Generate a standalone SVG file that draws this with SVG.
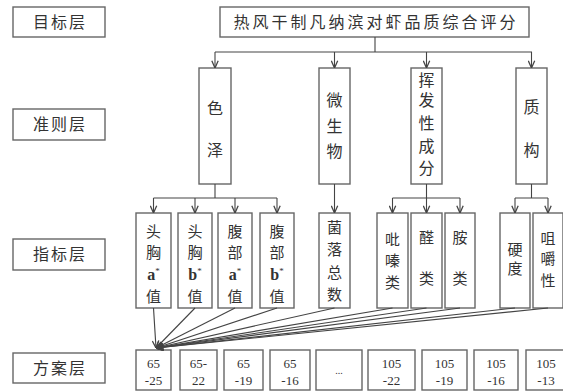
<svg xmlns="http://www.w3.org/2000/svg" width="563" height="392" viewBox="0 0 563 392">
<defs>
<marker id="arr" viewBox="0 0 10 10" refX="10" refY="5" markerWidth="8" markerHeight="8" markerUnits="userSpaceOnUse" orient="auto">
<path d="M1,1 L10,5 L1,9" fill="none" stroke="#444" stroke-width="1.6"/>
</marker>
</defs>
<style>
.box{fill:#fff;stroke:#666;stroke-width:1.4}
.t{font-family:"Liberation Serif","Noto Sans CJK SC",serif;fill:#333;text-anchor:middle}
.lab{font-size:16px;letter-spacing:2px}
.title{font-size:16px;letter-spacing:3px}
.cr{font-size:16px}
.ind{font-size:15px}
.ab{font-size:16px;font-weight:bold}
.num{font-size:13px}
.ln{fill:none;stroke:#444;stroke-width:1.1}
</style>
<rect width="563" height="392" fill="#fff"/>

<g id="label-goal"><rect class="box" x="13" y="7" width="92" height="30"/><text class="t lab" x="60" y="28">目标层</text></g>
<g id="label-criteria"><rect class="box" x="13" y="109" width="92" height="31"/><text class="t lab" x="60" y="130">准则层</text></g>
<g id="label-index"><rect class="box" x="13" y="239" width="92" height="31"/><text class="t lab" x="60" y="260">指标层</text></g>
<g id="label-scheme"><rect class="box" x="13" y="353" width="92" height="30"/><text class="t lab" x="60" y="374">方案层</text></g>

<g id="goal"><rect class="box" x="220" y="7" width="309" height="30"/><text class="t title" x="376" y="28">热风干制凡纳滨对虾品质综合评分</text></g>

<g id="c-color"><rect class="box" x="199" y="68" width="32" height="116"/>
<text class="t cr" x="215" y="114">色</text><text class="t cr" x="215" y="156">泽</text></g>
<g id="c-micro"><rect class="box" x="319" y="68" width="31" height="116"/>
<text class="t cr" x="334.5" y="106">微</text><text class="t cr" x="334.5" y="132">生</text><text class="t cr" x="334.5" y="157">物</text></g>
<g id="c-volatile"><rect class="box" x="411" y="68" width="31" height="116"/>
<text class="t cr" x="426.5" y="86">挥</text><text class="t cr" x="426.5" y="106">发</text><text class="t cr" x="426.5" y="129">性</text><text class="t cr" x="426.5" y="152">成</text><text class="t cr" x="426.5" y="174">分</text></g>
<g id="c-texture"><rect class="box" x="516" y="68" width="31" height="116"/>
<text class="t cr" x="531.5" y="113">质</text><text class="t cr" x="531.5" y="156">构</text></g>

<g id="i-ha"><rect class="box" x="136" y="213" width="35" height="95"/>
<text class="t ind" x="153.5" y="237">头</text><text class="t ind" x="153.5" y="258">胸</text><text class="t ab" x="153.5" y="280">a<tspan font-size="9" font-weight="normal" dy="-6">*</tspan></text><text class="t ind" x="153.5" y="302">值</text></g>
<g id="i-hb"><rect class="box" x="178" y="213" width="34" height="95"/>
<text class="t ind" x="195" y="237">头</text><text class="t ind" x="195" y="258">胸</text><text class="t ab" x="195" y="280">b<tspan font-size="9" font-weight="normal" dy="-6">*</tspan></text><text class="t ind" x="195" y="302">值</text></g>
<g id="i-aa"><rect class="box" x="218" y="213" width="34" height="95"/>
<text class="t ind" x="235" y="237">腹</text><text class="t ind" x="235" y="258">部</text><text class="t ab" x="235" y="280">a<tspan font-size="9" font-weight="normal" dy="-6">*</tspan></text><text class="t ind" x="235" y="302">值</text></g>
<g id="i-ab"><rect class="box" x="260" y="213" width="34" height="95"/>
<text class="t ind" x="277" y="237">腹</text><text class="t ind" x="277" y="258">部</text><text class="t ab" x="277" y="280">b<tspan font-size="9" font-weight="normal" dy="-6">*</tspan></text><text class="t ind" x="277" y="302">值</text></g>
<g id="i-colony"><rect class="box" x="319" y="213" width="31" height="95"/>
<text class="t ind" x="334.5" y="233">菌</text><text class="t ind" x="334.5" y="255">落</text><text class="t ind" x="334.5" y="278">总</text><text class="t ind" x="334.5" y="300">数</text></g>
<g id="i-pyrazine"><rect class="box" x="377" y="213" width="31" height="95"/>
<text class="t ind" x="392.5" y="245">吡</text><text class="t ind" x="392.5" y="266">嗪</text><text class="t ind" x="392.5" y="288">类</text></g>
<g id="i-aldehyde"><rect class="box" x="411" y="213" width="31" height="95"/>
<text class="t ind" x="426.5" y="243">醛</text><text class="t ind" x="426.5" y="284">类</text></g>
<g id="i-amine"><rect class="box" x="445" y="213" width="30" height="95"/>
<text class="t ind" x="460" y="243">胺</text><text class="t ind" x="460" y="284">类</text></g>
<g id="i-hardness"><rect class="box" x="500" y="213" width="30" height="95"/>
<text class="t ind" x="515" y="255">硬</text><text class="t ind" x="515" y="274">度</text></g>
<g id="i-chew"><rect class="box" x="533" y="213" width="30" height="95"/>
<text class="t ind" x="548" y="244">咀</text><text class="t ind" x="548" y="264">嚼</text><text class="t ind" x="548" y="286">性</text></g>

<g id="s1"><rect class="box" x="136" y="350" width="35" height="40"/><text class="t num" x="153.5" y="368">65</text><text class="t num" x="153.5" y="385">-25</text></g>
<g id="s2"><rect class="box" x="180" y="350" width="37" height="40"/><text class="t num" x="198.5" y="368">65-</text><text class="t num" x="198.5" y="385">22</text></g>
<g id="s3"><rect class="box" x="224" y="350" width="39" height="40"/><text class="t num" x="243.5" y="368">65</text><text class="t num" x="243.5" y="385">-19</text></g>
<g id="s4"><rect class="box" x="270" y="350" width="40" height="40"/><text class="t num" x="290" y="368">65</text><text class="t num" x="290" y="385">-16</text></g>
<g id="s5"><rect class="box" x="316" y="350" width="46" height="40"/><text class="t num" x="339" y="374" fill="#777" style="font-size:10px">...</text></g>
<g id="s6"><rect class="box" x="368" y="350" width="47" height="40"/><text class="t num" x="391.5" y="368">105</text><text class="t num" x="391.5" y="385">-22</text></g>
<g id="s7"><rect class="box" x="422" y="350" width="45" height="40"/><text class="t num" x="444.5" y="368">105</text><text class="t num" x="444.5" y="385">-19</text></g>
<g id="s8"><rect class="box" x="474" y="350" width="44" height="40"/><text class="t num" x="496" y="368">105</text><text class="t num" x="496" y="385">-16</text></g>
<g id="s9"><rect class="box" x="526" y="350" width="40" height="40"/><text class="t num" x="546" y="368">105</text><text class="t num" x="546" y="385">-13</text></g>

<g id="connectors">
<path class="ln" d="M375,37 V52 M215,52 H532"/>
<line class="ln" x1="215" y1="52" x2="215" y2="68" marker-end="url(#arr)"/>
<line class="ln" x1="334.5" y1="52" x2="334.5" y2="68" marker-end="url(#arr)"/>
<line class="ln" x1="426.5" y1="52" x2="426.5" y2="68" marker-end="url(#arr)"/>
<line class="ln" x1="531.5" y1="52" x2="531.5" y2="68" marker-end="url(#arr)"/>

<path class="ln" d="M215,184 V198 M153.5,198 H277"/>
<line class="ln" x1="153.5" y1="198" x2="153.5" y2="213" marker-end="url(#arr)"/>
<line class="ln" x1="195" y1="198" x2="195" y2="213" marker-end="url(#arr)"/>
<line class="ln" x1="235" y1="198" x2="235" y2="213" marker-end="url(#arr)"/>
<line class="ln" x1="277" y1="198" x2="277" y2="213" marker-end="url(#arr)"/>

<line class="ln" x1="334.5" y1="184" x2="334.5" y2="213" marker-end="url(#arr)"/>

<path class="ln" d="M426.5,184 V198 M392.5,198 H460"/>
<line class="ln" x1="392.5" y1="198" x2="392.5" y2="213" marker-end="url(#arr)"/>
<line class="ln" x1="426.5" y1="198" x2="426.5" y2="213" marker-end="url(#arr)"/>
<line class="ln" x1="460" y1="198" x2="460" y2="213" marker-end="url(#arr)"/>

<path class="ln" d="M531.5,184 V198 M515,198 H548"/>
<line class="ln" x1="515" y1="198" x2="515" y2="213" marker-end="url(#arr)"/>
<line class="ln" x1="548" y1="198" x2="548" y2="213" marker-end="url(#arr)"/>

<line class="ln" x1="153.5" y1="308" x2="156" y2="348" marker-end="url(#arr)"/>
<line class="ln" x1="195" y1="308" x2="156" y2="348" marker-end="url(#arr)"/>
<line class="ln" x1="235" y1="308" x2="156" y2="348" marker-end="url(#arr)"/>
<line class="ln" x1="277" y1="308" x2="156" y2="348" marker-end="url(#arr)"/>
<line class="ln" x1="334.5" y1="308" x2="156" y2="348" marker-end="url(#arr)"/>
<line class="ln" x1="392.5" y1="308" x2="156" y2="348" marker-end="url(#arr)"/>
<line class="ln" x1="426.5" y1="308" x2="156" y2="348" marker-end="url(#arr)"/>
<line class="ln" x1="460" y1="308" x2="156" y2="348" marker-end="url(#arr)"/>
<line class="ln" x1="515" y1="308" x2="156" y2="348" marker-end="url(#arr)"/>
<line class="ln" x1="548" y1="308" x2="156" y2="348" marker-end="url(#arr)"/>
</g>
</svg>
